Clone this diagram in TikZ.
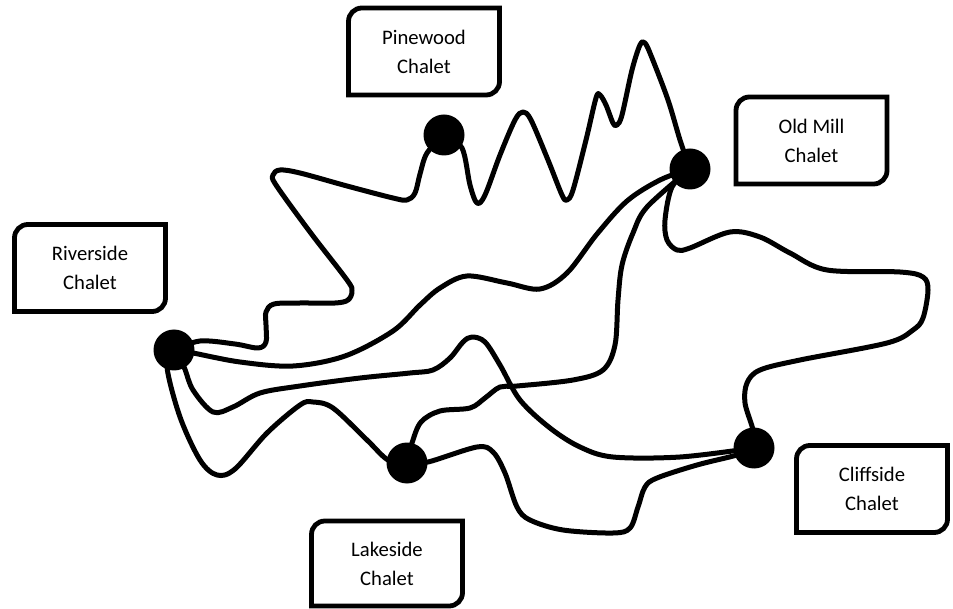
\documentclass[tikz,border=0pt]{standalone}
\usepackage{fontspec}
\setmainfont{Carlito}
\usetikzlibrary{backgrounds}
\newcommand\chaletframe[1]{\draw[boxline] ([yshift=-10pt]#1.north west) .. controls ([yshift=-4.5pt]#1.north west) and ([xshift=4.5pt]#1.north west) .. ([xshift=10pt]#1.north west) -- (#1.north east) -- ([yshift=10pt]#1.south east) .. controls ([yshift=4.5pt]#1.south east) and ([xshift=-4.5pt]#1.south east) .. ([xshift=-10pt]#1.south east) -- (#1.south west) -- cycle;}
\begin{document}
\begin{tikzpicture}[x=0.75pt,y=-0.75pt,
  dot/.style={circle,fill=black,inner sep=0pt,minimum size=30.75pt},
  conn/.style={line width=3.75pt,line join=round,line cap=round},
  chalet/.style={inner sep=0pt,outer sep=0pt,minimum width=113.25pt,minimum height=65.25pt,align=center,font=\fontsize{15.5}{21.75}\selectfont},
  boxline/.style={line width=3.6pt,line join=miter}]
\useasboundingbox (0,0) rectangle (953,609);

% chalet dots
\node[dot] (riv) at (174,350) {};
\node[dot] (pine) at (444,135) {};
\node[dot] (mill) at (690,169) {};
\node[dot] (lake) at (407,463) {};
\node[dot] (cliff) at (754,448) {};

% labels
\node[chalet] (pinelabel) at (424,51.5) {Pinewood\\Chalet};
\node[chalet] (milllabel) at (811.5,140.5) {Old Mill\\Chalet};
\node[chalet] (rivlabel) at (90,268) {Riverside\\Chalet};
\node[chalet,minimum height=63.75pt] (lakelabel) at (387,563.5) {Lakeside\\Chalet};
\node[chalet] (clifflabel) at (872,489) {Cliffside\\Chalet};
\chaletframe{pinelabel}
\chaletframe{milllabel}
\chaletframe{rivlabel}
\chaletframe{lakelabel}
\chaletframe{clifflabel}

\begin{scope}[on background layer]
% Pinewood - Old Mill
\draw[conn] plot[smooth,tension=0.55] coordinates {(pine.center) (462,148) (470,185) (477,203) (485,195) (500,155) (515,120) (523,112) (531,120) (548,160) (562,195) (567,200) (573,190) (586,140) (596,98) (600,95) (606,105) (613,123) (617,125) (622,115) (632,70) (640,45) (645,43) (652,58) (668,100) (680,140) (mill.center)};
% Riverside - Pinewood
\draw[conn] plot[smooth,tension=0.55] coordinates {(riv.center) (200,341) (235,344) (258,348) (266,342) (266,325) (266,312) (274,304) (300,303) (335,303) (348,300) (352,291) (347,280) (310,232) (276,185) (273,175) (280,170) (300,173) (347,186) (393,198) (407,200) (415,193) (420,174) (427,153) (pine.center)};
% Riverside - Old Mill
\draw[conn] plot[smooth,tension=0.55] coordinates {(riv.center) (193,353) (240,362) (293,366) (345,356) (393,331) (420,305) (440,288) (467,276) (507,283) (540,289) (567,273) (597,234) (627,201) (660,180) (mill.center)};
% Riverside - Cliffside
\draw[conn] plot[smooth,tension=0.55] coordinates {(riv.center) (184,367) (193,390) (213,412) (233,407) (260,393) (300,386) (360,378) (410,373) (433,370) (450,358) (463,342) (472,337) (485,342) (500,365) (520,400) (550,428) (580,447) (613,457) (680,457) (cliff.center)};
% Riverside - Lakeside
\draw[conn] plot[smooth,tension=0.55] coordinates {(riv.center) (167,367) (180,417) (200,460) (217,475) (235,469) (267,433) (300,405) (313,402) (333,408) (367,440) (388,460) (lake.center)};
% Lakeside - Old Mill
\draw[conn] plot[smooth,tension=0.55] coordinates {(lake.center) (412,443) (421,422) (440,411) (470,408) (485,398) (500,387) (517,386) (573,380) (603,370) (615,345) (618,300) (622,265) (633,233) (647,207) (mill.center)};
% Lakeside - Cliffside
\draw[conn] plot[smooth,tension=0.55] coordinates {(lake.center) (428,462) (477,447) (493,452) (505,473) (517,507) (530,520) (563,530) (613,533) (630,528) (638,507) (645,487) (657,478) (697,465) (737,455) (cliff.center)};
% Old Mill - Cliffside
\draw[conn] plot[smooth,tension=0.55] coordinates {(mill.center) (672,187) (665,220) (667,240) (677,250) (690,248) (730,232) (760,237) (790,253) (827,270) (900,272) (923,277) (928,290) (923,318) (913,330) (887,343) (800,360) (760,370) (747,383) (745,403) (753,430) (cliff.center)};
\end{scope}
\end{tikzpicture}
\end{document}
